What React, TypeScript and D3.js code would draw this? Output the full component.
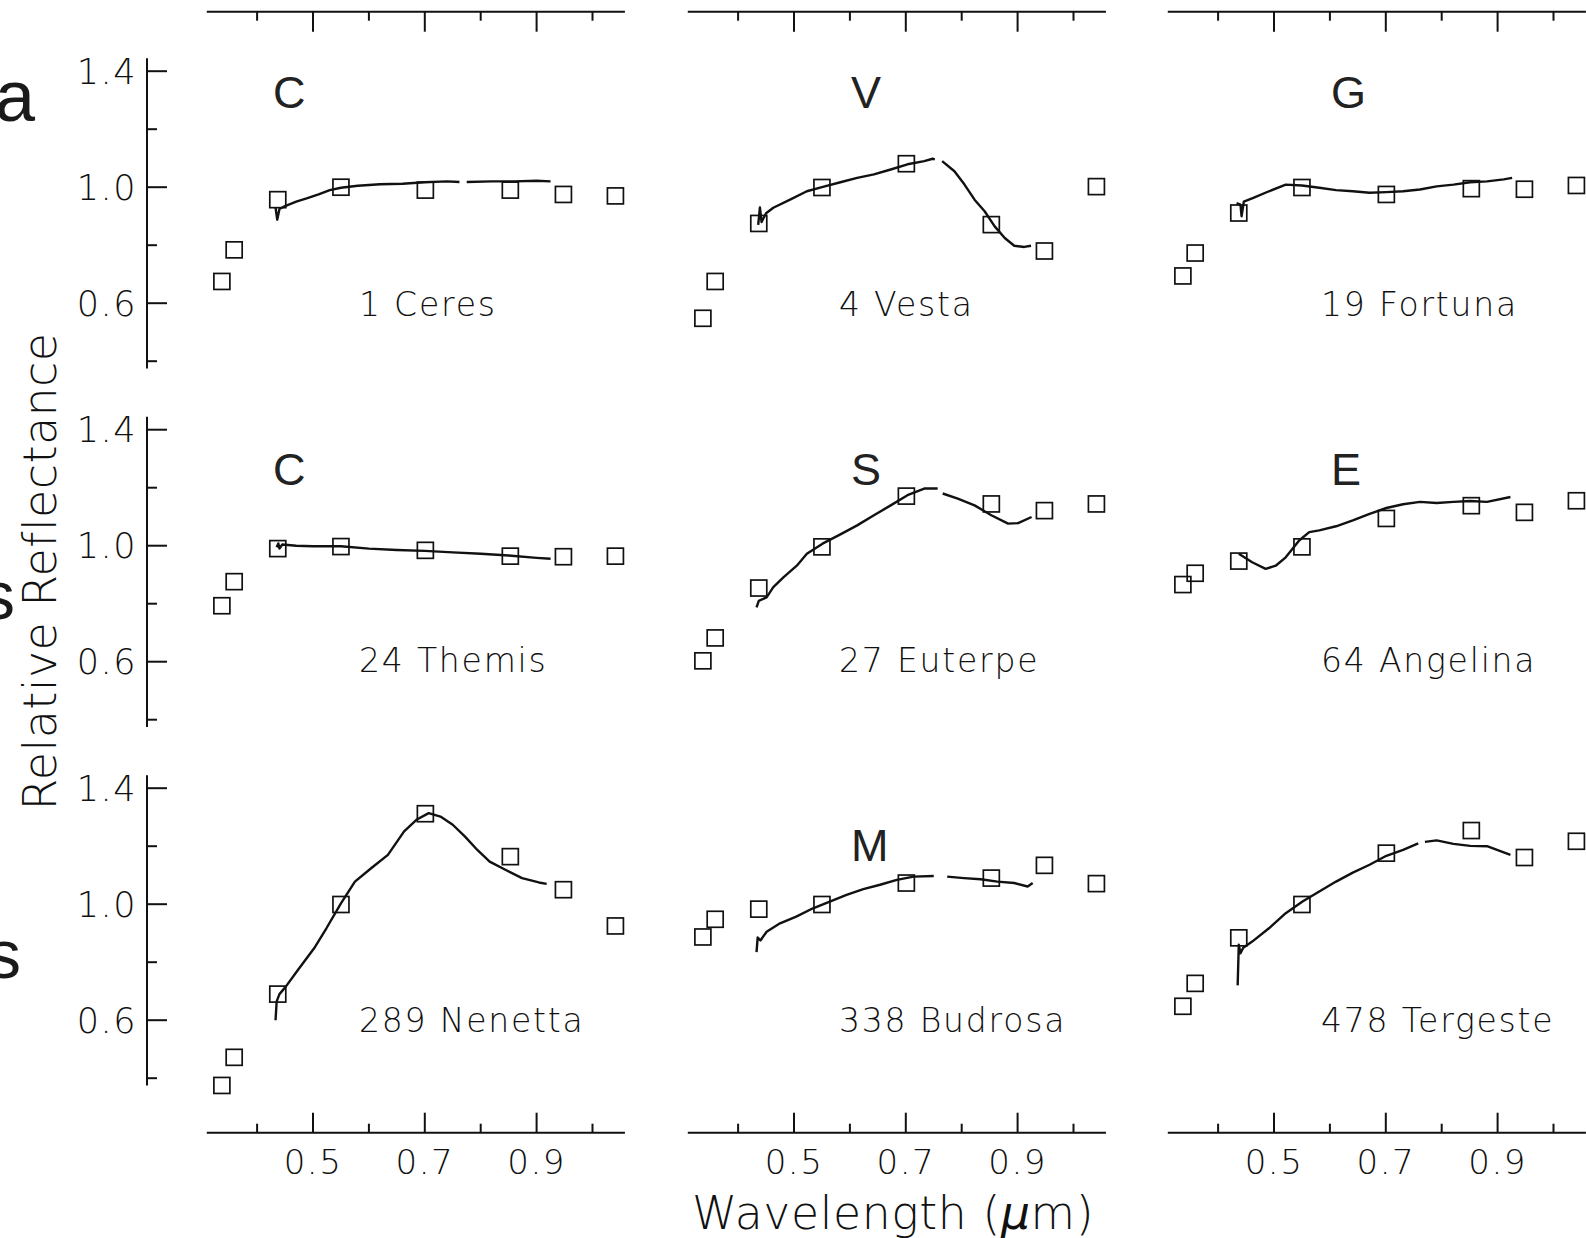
import React from "react";
import * as d3 from "d3";

// ECAS filter wavelengths (µm)
const FILTER_WL = [0.337, 0.359, 0.437, 0.55, 0.701, 0.853, 0.948, 1.041];

const NAMES = ["1 Ceres", "4 Vesta", "19 Fortuna", "24 Themis", "27 Euterpe", "64 Angelina", "289 Nenetta", "338 Budrosa", "478 Tergeste"];
const CLASSES = ["C", "V", "G", "C", "S", "E", "", "M", ""];

// ECAS relative reflectances (normalised at 0.55 µm)
const ECAS_CERES = [0.675, 0.784, 0.957, 1.0, 0.99, 0.99, 0.975, 0.97];
const ECAS_VESTA = [0.548, 0.675, 0.875, 0.999, 1.081, 0.871, 0.78, 1.002];
const ECAS_FORTUNA = [0.694, 0.773, 0.911, 0.999, 0.975, 0.995, 0.993, 1.006];
const ECAS_THEMIS = [0.793, 0.876, 0.99, 0.997, 0.984, 0.964, 0.962, 0.964];
const ECAS_EUTERPE = [0.603, 0.682, 0.854, 0.996, 1.171, 1.144, 1.121, 1.144];
const ECAS_ANGELINA = [0.866, 0.905, 0.947, 0.996, 1.094, 1.138, 1.115, 1.155];
const ECAS_NENETTA = [0.375, 0.472, 0.69, 0.999, 1.312, 1.164, 1.05, 0.925];
const ECAS_BUDROSA = [0.887, 0.948, 0.983, 0.999, 1.073, 1.09, 1.134, 1.071];
const ECAS_TERGESTE = [0.648, 0.727, 0.884, 0.999, 1.176, 1.254, 1.161, 1.217];

// CCD spectra: [wavelength µm, reflectance]; null marks a gap in the data
type Pt = [number, number | null];
const SPEC_CERES: Pt[] = [[0.433, 0.93], [0.436, 0.888], [0.44, 0.925], [0.45, 0.935], [0.47, 0.95], [0.49, 0.962], [0.51, 0.975], [0.53, 0.99], [0.55, 0.998], [0.58, 1.005], [0.62, 1.01], [0.66, 1.012], [0.70, 1.017], [0.74, 1.02], [0.762, 1.018], [0.768, null], [0.775, 1.018], [0.82, 1.02], [0.86, 1.02], [0.90, 1.022], [0.925, 1.02]];
const SPEC_VESTA: Pt[] = [[0.436, 0.87], [0.439, 0.93], [0.442, 0.88], [0.45, 0.91], [0.463, 0.929], [0.493, 0.957], [0.523, 0.986], [0.55, 1.0], [0.583, 1.017], [0.613, 1.032], [0.643, 1.044], [0.673, 1.061], [0.703, 1.079], [0.733, 1.09], [0.748, 1.098], [0.752, 1.096], [0.758, null], [0.765, 1.09], [0.787, 1.055], [0.805, 1.009], [0.823, 0.957], [0.841, 0.917], [0.859, 0.865], [0.877, 0.825], [0.894, 0.798], [0.912, 0.794], [0.924, 0.798]];
const SPEC_FORTUNA: Pt[] = [[0.433, 0.945], [0.44, 0.94], [0.442, 0.9], [0.446, 0.95], [0.463, 0.963], [0.491, 0.986], [0.521, 1.009], [0.55, 1.006], [0.581, 0.998], [0.611, 0.99], [0.641, 0.986], [0.671, 0.981], [0.701, 0.983], [0.731, 0.986], [0.761, 0.992], [0.791, 1.003], [0.821, 1.009], [0.851, 1.017], [0.881, 1.02], [0.911, 1.027], [0.926, 1.032]];
const SPEC_THEMIS: Pt[] = [[0.435, 0.995], [0.438, 1.008], [0.44, 0.99], [0.445, 1.004], [0.47, 1.0], [0.5, 0.998], [0.55, 0.998], [0.6, 0.99], [0.65, 0.985], [0.7, 0.982], [0.75, 0.977], [0.8, 0.972], [0.85, 0.966], [0.9, 0.958], [0.925, 0.955]];
const SPEC_EUTERPE: Pt[] = [[0.433, 0.787], [0.437, 0.81], [0.451, 0.822], [0.463, 0.857], [0.481, 0.891], [0.505, 0.931], [0.523, 0.972], [0.551, 1.007], [0.583, 1.039], [0.613, 1.07], [0.643, 1.105], [0.673, 1.139], [0.703, 1.174], [0.733, 1.197], [0.757, 1.197], [0.761, null], [0.766, 1.18], [0.793, 1.162], [0.823, 1.139], [0.853, 1.105], [0.883, 1.076], [0.901, 1.078], [0.925, 1.099]];
const SPEC_ANGELINA: Pt[] = [[0.437, 0.972], [0.461, 0.943], [0.485, 0.92], [0.503, 0.931], [0.521, 0.96], [0.545, 1.018], [0.563, 1.047], [0.581, 1.053], [0.611, 1.067], [0.641, 1.087], [0.671, 1.11], [0.701, 1.13], [0.731, 1.143], [0.761, 1.151], [0.791, 1.147], [0.821, 1.151], [0.851, 1.154], [0.881, 1.151], [0.923, 1.168]];
const SPEC_NENETTA: Pt[] = [[0.433, 0.6], [0.435, 0.665], [0.44, 0.69], [0.451, 0.715], [0.473, 0.773], [0.502, 0.848], [0.524, 0.917], [0.55, 1.003], [0.575, 1.078], [0.604, 1.124], [0.634, 1.17], [0.663, 1.251], [0.685, 1.291], [0.707, 1.314], [0.728, 1.302], [0.75, 1.274], [0.772, 1.233], [0.794, 1.187], [0.816, 1.147], [0.845, 1.118], [0.874, 1.09], [0.904, 1.075], [0.918, 1.07]];
const SPEC_BUDROSA: Pt[] = [[0.433, 0.835], [0.435, 0.885], [0.44, 0.875], [0.451, 0.905], [0.475, 0.934], [0.504, 0.957], [0.534, 0.986], [0.564, 1.009], [0.594, 1.032], [0.624, 1.052], [0.654, 1.067], [0.684, 1.084], [0.714, 1.095], [0.75, 1.097], [0.758, null], [0.774, 1.095], [0.804, 1.09], [0.834, 1.086], [0.864, 1.078], [0.894, 1.073], [0.918, 1.061], [0.927, 1.073]];
const SPEC_TERGESTE: Pt[] = [[0.435, 0.72], [0.437, 0.86], [0.44, 0.831], [0.445, 0.85], [0.461, 0.871], [0.491, 0.917], [0.521, 0.969], [0.551, 1.009], [0.581, 1.044], [0.611, 1.078], [0.641, 1.109], [0.671, 1.136], [0.701, 1.167], [0.731, 1.187], [0.758, 1.21], [0.763, null], [0.77, 1.215], [0.791, 1.22], [0.821, 1.208], [0.851, 1.201], [0.881, 1.2], [0.899, 1.187], [0.923, 1.17]];

const ECAS = [ECAS_CERES, ECAS_VESTA, ECAS_FORTUNA, ECAS_THEMIS, ECAS_EUTERPE, ECAS_ANGELINA, ECAS_NENETTA, ECAS_BUDROSA, ECAS_TERGESTE];
const SPECTRA = [SPEC_CERES, SPEC_VESTA, SPEC_FORTUNA, SPEC_THEMIS, SPEC_EUTERPE, SPEC_ANGELINA, SPEC_NENETTA, SPEC_BUDROSA, SPEC_TERGESTE];

const X_TICKS = [0.4, 0.5, 0.6, 0.7, 0.8, 0.9, 1.0];
const X_LABELS = [0.5, 0.7, 0.9];
const Y_TICKS = [0.4, 0.6, 0.8, 1.0, 1.2, 1.4];
const Y_LABELS = [0.6, 1.0, 1.4];
const ROW_LETTERS = ["a", "s", "s"];

// layout
const W = 1586;
const H = 1238;
const X_DOMAIN: [number, number] = [0.31, 1.058];
const Y_DOMAIN: [number, number] = [0.375, 1.445];
const PX_PER_UM = 559;
const PX_PER_UNIT = 290;
const COL_X05 = [313, 794, 1274];
const ROW_Y14 = [71.2, 429.7, 788.2];
const TOP_AXIS_Y = 11.7;
const BOTTOM_AXIS_Y = 1132.7;
const Y_AXIS_X = 147;
const CLASS_X = [273, 851, 1331];
const CLASS_BASE = [107.5, 485, 861];
const NAME_X = [359, 839, 1321];
const NAME_BASE = [315.5, 672, 1032];
const LETTER_POS = [
  { x: -5, y: 121, size: 72 },
  { x: -19, y: 619, size: 68 },
  { x: -13, y: 978, size: 68 },
];
const HERSHEY = "'DejaVu Sans', 'Liberation Sans', sans-serif";
const ARIAL = "'Liberation Sans', Arial, sans-serif";
const INK = "#111";

const xScale = (c: number) =>
  d3.scaleLinear().domain(X_DOMAIN).range([
    COL_X05[c] + (X_DOMAIN[0] - 0.5) * PX_PER_UM,
    COL_X05[c] + (X_DOMAIN[1] - 0.5) * PX_PER_UM,
  ]);
const yScale = (r: number) =>
  d3.scaleLinear().domain(Y_DOMAIN).range([
    ROW_Y14[r] + (1.4 - Y_DOMAIN[0]) * PX_PER_UNIT,
    ROW_Y14[r] + (1.4 - Y_DOMAIN[1]) * PX_PER_UNIT,
  ]);

const isMajor = (v: number, majors: number[]) => majors.some((m) => Math.abs(m - v) < 1e-6);

function Panel({ idx }: { idx: number }) {
  const c = idx % 3;
  const r = Math.floor(idx / 3);
  const x = xScale(c);
  const y = yScale(r);
  const line = d3
    .line<Pt>()
    .defined((d) => d[1] !== null)
    .x((d) => x(d[0]))
    .y((d) => y(d[1] as number));
  const sq = 16;
  return (
    <g>
      <path d={line(SPECTRA[idx]) || ""} fill="none" stroke={INK} strokeWidth={2.4} strokeLinejoin="round" />
      {FILTER_WL.map((wl, i) => (
        <rect
          key={i}
          x={x(wl) - sq / 2}
          y={y(ECAS[idx][i]) - sq / 2}
          width={sq}
          height={sq}
          fill="none"
          stroke={INK}
          strokeWidth={1.7}
        />
      ))}
      {CLASSES[idx] && (
        <text x={CLASS_X[c]} y={CLASS_BASE[r]} fontFamily={ARIAL} fontSize={45} fill="#222">
          {CLASSES[idx]}
        </text>
      )}
      <text x={NAME_X[c]} y={NAME_BASE[r]} fontFamily={HERSHEY} fontWeight={200} fontSize={33} letterSpacing={1.8} fill={INK}>
        {NAMES[idx]}
      </text>
    </g>
  );
}

function XAxes({ c }: { c: number }) {
  const x = xScale(c);
  const [x0, x1] = x.range();
  return (
    <g stroke={INK} strokeWidth={2}>
      <line x1={x0} x2={x1} y1={TOP_AXIS_Y} y2={TOP_AXIS_Y} />
      <line x1={x0} x2={x1} y1={BOTTOM_AXIS_Y} y2={BOTTOM_AXIS_Y} />
      {X_TICKS.map((t) => {
        const len = isMajor(t, X_LABELS) ? 20 : 9;
        return (
          <g key={t}>
            <line x1={x(t)} x2={x(t)} y1={TOP_AXIS_Y} y2={TOP_AXIS_Y + len} />
            <line x1={x(t)} x2={x(t)} y1={BOTTOM_AXIS_Y} y2={BOTTOM_AXIS_Y - len} />
          </g>
        );
      })}
      {X_LABELS.map((t) => (
        <text
          key={t}
          x={x(t)}
          y={BOTTOM_AXIS_Y + 41}
          textAnchor="middle"
          fontFamily={HERSHEY}
          fontWeight={200}
          fontSize={34}
          letterSpacing={1.5}
          fill={INK}
          stroke="none"
        >
          {t.toFixed(1)}
        </text>
      ))}
    </g>
  );
}

function YAxis({ r }: { r: number }) {
  const y = yScale(r);
  const [y0, y1] = y.range();
  return (
    <g stroke={INK} strokeWidth={2}>
      <line x1={Y_AXIS_X} x2={Y_AXIS_X} y1={y0} y2={y1} />
      {Y_TICKS.map((t) => (
        <line key={t} x1={Y_AXIS_X} x2={Y_AXIS_X + (isMajor(t, Y_LABELS) ? 20 : 10)} y1={y(t)} y2={y(t)} />
      ))}
      {Y_LABELS.map((t) => (
        <text
          key={t}
          x={Y_AXIS_X - 10}
          y={y(t) + 12.5}
          textAnchor="end"
          fontFamily={HERSHEY}
          fontWeight={200}
          fontSize={35}
          letterSpacing={1.5}
          fill={INK}
          stroke="none"
        >
          {t.toFixed(1)}
        </text>
      ))}
    </g>
  );
}

export default function App() {
  return (
    <svg width={W} height={H} viewBox={`0 0 ${W} ${H}`} style={{ display: "block", position: "absolute", left: 0, top: 0, background: "#fff" }}>
      <rect width={W} height={H} fill="#fff" />
      {ROW_LETTERS.map((l, i) => (
        <text key={i} x={LETTER_POS[i].x} y={LETTER_POS[i].y} fontFamily={ARIAL} fontSize={LETTER_POS[i].size} fill="#1a1a1a">
          {l}
        </text>
      ))}
      {[0, 1, 2].map((c) => (
        <XAxes key={c} c={c} />
      ))}
      {[0, 1, 2].map((r) => (
        <YAxis key={r} r={r} />
      ))}
      {NAMES.map((_, i) => (
        <Panel key={i} idx={i} />
      ))}
      <text
        x={893}
        y={1229}
        textAnchor="middle"
        fontFamily={HERSHEY}
        fontWeight={200}
        fontSize={45.7}
        letterSpacing={0.6}
        fill={INK}
      >
        Wavelength (<tspan fontStyle="italic">µ</tspan>m)
      </text>
      <text
        transform="translate(56,571.5) rotate(-90)"
        textAnchor="middle"
        fontFamily={HERSHEY}
        fontWeight={200}
        fontSize={46}
        letterSpacing={0.4}
        fill={INK}
      >
        Relative Reflectance
      </text>
    </svg>
  );
}
